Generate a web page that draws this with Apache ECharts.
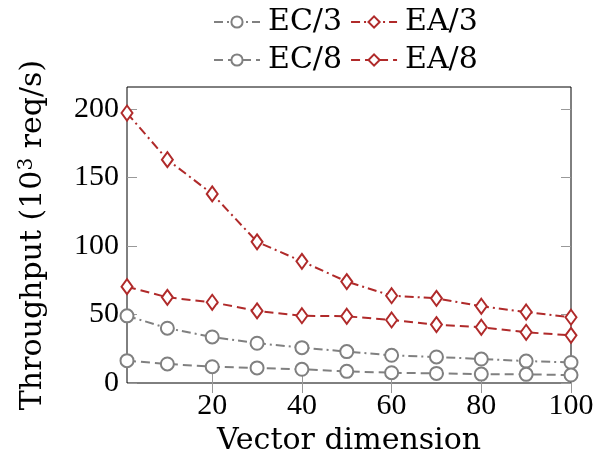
<!DOCTYPE html>
<html>
<head>
<meta charset="utf-8">
<script src="https://cdn.jsdelivr.net/npm/echarts@6/dist/echarts.min.js"></script>
<style>
  html, body { margin: 0; padding: 0; background: #fff; }
  #chart { width: 603px; height: 470px; }
</style>
</head>
<body>
<div id="chart"></div>
<script>
// vector dimensions on the x axis
const dims = [1, 10, 20, 30, 40, 50, 60, 70, 80, 90, 100]
// throughput, 10^3 req/s
const ec3 = [49, 40, 33.6, 29, 25.8, 22.9, 20.2, 19, 17.5, 16, 15]
const ea3 = [197, 163, 138, 103, 88.8, 74, 63.7, 61.8, 56, 51.8, 48]
const ec8 = [16.3, 13.9, 11.9, 11, 10, 8.5, 7.5, 7, 6.5, 6.3, 5.8]
const ea8 = [70.3, 62.5, 58.9, 52.6, 49.1, 48.7, 46, 42.6, 40.7, 37, 34.8]
const xTicks = [20, 40, 60, 80, 100]
const yTicks = [0, 50, 100, 150, 200]

const FONT = 'DejaVu Serif'
const NUMFONT = 'Liberation Serif'
const GREY = '#808080'
const RED = '#b02a2a'
const dashDot = [9, 4, 2, 4]
const dashed = [9, 5]

function pairs(ys) {
  return dims.map((x, i) => [x, ys[i]])
}

function makeSeries(name, ys, color, symbol, size, dash) {
  return {
    name: name,
    type: 'line',
    data: pairs(ys),
    symbol: symbol,
    symbolSize: size,
    showSymbol: true,
    color: color,
    lineStyle: { color: color, width: 2, type: dash },
    itemStyle: { color: '#fff', borderColor: color, borderWidth: 2 },
    emphasis: { disabled: true },
    animation: false,
    z: 3
  }
}

const tickStyle = { show: true, inside: true, length: 10, lineStyle: { color: '#999', width: 1 } }
const legendText = { fontFamily: FONT, fontSize: 30, color: '#000', padding: [0, 0, 0, 3] }

const chart = echarts.init(document.getElementById('chart'))
chart.setOption({
  animation: false,
  textStyle: { fontFamily: FONT },
  grid: {
    left: 127, right: 32, top: 87, bottom: 87,
    show: true, borderColor: '#000', borderWidth: 1, backgroundColor: 'transparent'
  },
  legend: [
    {
      data: ['EC/3', 'EA/3'],
      left: 208, top: 2,
      itemWidth: 46, itemHeight: 14, itemGap: 8,
      textStyle: legendText
    },
    {
      data: ['EC/8', 'EA/8'],
      left: 208, top: 40,
      itemWidth: 46, itemHeight: 14, itemGap: 8,
      textStyle: legendText
    }
  ],
  xAxis: [
    {
      type: 'value', min: 1, max: 100,
      name: 'Vector dimension', nameLocation: 'middle', nameGap: 40,
      nameTextStyle: { fontFamily: FONT, fontSize: 30, color: '#000' },
      axisLine: { show: false },
      splitLine: { show: false },
      axisTick: Object.assign({ customValues: xTicks }, tickStyle),
      axisLabel: { customValues: xTicks, fontFamily: NUMFONT, fontSize: 30, color: '#000', margin: 8 }
    },
    {
      type: 'value', min: 1, max: 100, position: 'top',
      axisLine: { show: false },
      splitLine: { show: false },
      axisTick: Object.assign({ customValues: xTicks }, tickStyle),
      axisLabel: { show: false }
    }
  ],
  yAxis: [
    {
      type: 'value', min: 0, max: 216,
      name: 'Throughput (10{sup|3} req/s)', nameLocation: 'middle', nameGap: 78,
      nameTextStyle: {
        fontFamily: FONT, fontSize: 30, color: '#000',
        rich: { sup: { fontFamily: FONT, fontSize: 20, color: '#000', verticalAlign: 'bottom', padding: [0, 0, 12, 0] } }
      },
      axisLine: { show: false },
      splitLine: { show: false },
      axisTick: Object.assign({ customValues: yTicks }, tickStyle),
      axisLabel: { customValues: yTicks, fontFamily: NUMFONT, fontSize: 30, color: '#000', margin: 8 }
    },
    {
      type: 'value', min: 0, max: 216, position: 'right',
      axisLine: { show: false },
      splitLine: { show: false },
      axisTick: Object.assign({ customValues: yTicks }, tickStyle),
      axisLabel: { show: false }
    }
  ],
  series: [
    makeSeries('EC/3', ec3, GREY, 'circle', 13, dashDot),
    makeSeries('EA/3', ea3, RED, 'diamond', [11, 15], dashDot),
    makeSeries('EC/8', ec8, GREY, 'circle', 13, dashed),
    makeSeries('EA/8', ea8, RED, 'diamond', [11, 15], dashed)
  ]
})
</script>
</body>
</html>
